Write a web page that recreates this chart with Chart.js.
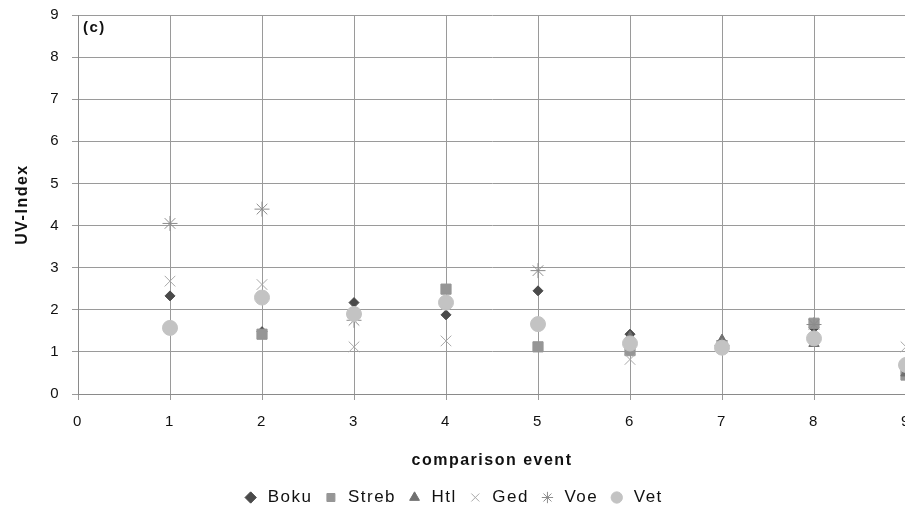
<!DOCTYPE html>
<html><head><meta charset="utf-8">
<script src="https://cdn.jsdelivr.net/npm/chart.js@4.4.1/dist/chart.umd.min.js"></script>
<style>html,body{margin:0;padding:0;background:#fff;overflow:hidden}#wrap{width:905px;height:516px;position:relative;overflow:hidden}</style>
</head><body><div id="wrap"><canvas id="c" width="905" height="516"></canvas></div>
<script>
// ---- data ----
const events = [1, 2, 3, 4, 5, 6, 7, 8, 9];
const boku  = [2.33, 1.48, 2.17, 1.88, 2.45, 1.42, 1.20, 1.57, null];
const streb = [null, 1.42, null, 2.49, 1.12, 1.03, 1.15, 1.68, 0.45];
const htl   = [null, null, null, null, null, 1.35, 1.28, 1.20, 0.50];
const ged   = [2.68, 2.60, 1.12, 1.26, null, 0.82, 1.10, null, 1.12];
const voe   = [4.05, 4.39, 1.75, null, 2.93, null, 1.15, 1.65, null];
const vet   = [1.57, 2.29, 1.90, 2.17, 1.66, 1.20, 1.10, 1.32, 0.69];
const xTickValues = [0, 1, 2, 3, 4, 5, 6, 7, 8, 9];
const yTickValues = [0, 1, 2, 3, 4, 5, 6, 7, 8, 9];
const seriesNames = ['Boku', 'Streb', 'Htl', 'Ged', 'Voe', 'Vet'];
const xTitle = 'comparison event';
const yTitle = 'UV-Index';
const panelLabel = '(c)';

const FONT = '"Liberation Sans", Arial, sans-serif';
const LS = '1.5px';

function pts(arr) { return events.map((x, i) => ({x: x, y: arr[i]})).filter(p => p.y !== null); }

const styles = [
  {style: 'rectRot',  r: 5,   color: '#4a4a4a'},
  {style: 'rect',     r: 7.2, color: '#969696'},
  {style: 'triangle', r: 6,   color: '#707070'},
  {style: 'crossRot', r: 7.5, color: '#a8a8a8'},
  {style: 'star',     r: 7.5, color: '#8c8c8c'},
  {style: 'circle',   r: 7.5, color: '#c3c3c3'}
];
const allSeries = [boku, streb, htl, ged, voe, vet];

const datasets = allSeries.map((arr, i) => ({
  label: seriesNames[i],
  data: pts(arr),
  pointStyle: styles[i].style,
  pointRadius: styles[i].r,
  pointHoverRadius: styles[i].r,
  backgroundColor: styles[i].color,
  borderColor: styles[i].color,
  pointBorderWidth: 1,
  borderWidth: 1,
  showLine: false,
  clip: false,
  order: 6 - i
}));

const spacing = {
  id: 'spacing',
  beforeUpdate(c) { c.ctx.letterSpacing = LS; },
  beforeLayout(c) { c.ctx.letterSpacing = LS; },
  beforeDraw(c) { c.ctx.letterSpacing = LS; }
};
// pin the plot area to the reference frame (right edge runs just past the canvas)
const AREA = {left: 78, right: 906, top: 15, bottom: 394};
const fixArea = {
  id: 'fixArea',
  afterLayout(c) {
    const a = c.chartArea, x = c.scales.x, y = c.scales.y;
    a.left = AREA.left; a.right = AREA.right; a.top = AREA.top; a.bottom = AREA.bottom;
    a.width = a.right - a.left; a.height = a.bottom - a.top;
    const xh = x.bottom - x.top;
    x.left = a.left; x.right = a.right; x.width = a.width;
    x.top = a.bottom; x.bottom = a.bottom + xh; x.height = xh;
    y.top = a.top; y.bottom = a.bottom; y.height = a.height;
    x.configure(); y.configure();
  }
};
const panel = {
  id: 'panel',
  afterDraw(c) {
    const ctx = c.ctx, a = c.chartArea;
    ctx.save();
    ctx.font = 'bold 15px ' + FONT;
    ctx.fillStyle = '#111';
    ctx.textBaseline = 'middle';
    ctx.textAlign = 'left';
    ctx.fillText(panelLabel, a.left + 5, a.top + 13);
    ctx.restore();
  }
};

new Chart(document.getElementById('c'), {
  type: 'scatter',
  data: {datasets},
  plugins: [spacing, fixArea, panel],
  options: {
    responsive: false,
    animation: false,
    events: [],
    layout: {padding: {left: 0, right: 0, top: 15, bottom: 0}},
    plugins: {
      tooltip: {enabled: false},
      legend: {
        position: 'bottom',
        labels: {
          usePointStyle: true,
          boxHeight: 8,
          padding: 10,
          color: '#111',
          font: {family: FONT, size: 17},
          sort: (a, b) => a.datasetIndex - b.datasetIndex
        }
      }
    },
    scales: {
      x: {
        type: 'linear', min: 0, max: 9,
        afterBuildTicks(s) { s.ticks = xTickValues.map(v => ({value: v})); },
        afterFit(s) { s.height = 86; },
        ticks: {color: '#111', padding: 13, maxRotation: 0, font: {family: FONT, size: 15}},
        grid: {color: '#9a9a9a', tickLength: 6, lineWidth: 1},
        border: {color: '#8a8a8a'},
        title: {display: true, text: xTitle, color: '#111', padding: {top: 0, bottom: 10}, font: {family: FONT, size: 16, weight: 'bold'}}
      },
      y: {
        type: 'linear', min: 0, max: 9,
        afterBuildTicks(s) { s.ticks = yTickValues.map(v => ({value: v})); },
        afterFit(s) { s.width = 78; },
        ticks: {color: '#111', padding: 12, font: {family: FONT, size: 15}},
        grid: {color: '#9a9a9a', tickLength: 6, lineWidth: 1},
        border: {color: '#8a8a8a'},
        title: {display: true, text: yTitle, color: '#111', padding: {top: 13, bottom: 0}, font: {family: FONT, size: 16, weight: 'bold'}}
      }
    }
  }
});
</script>
</body></html>
